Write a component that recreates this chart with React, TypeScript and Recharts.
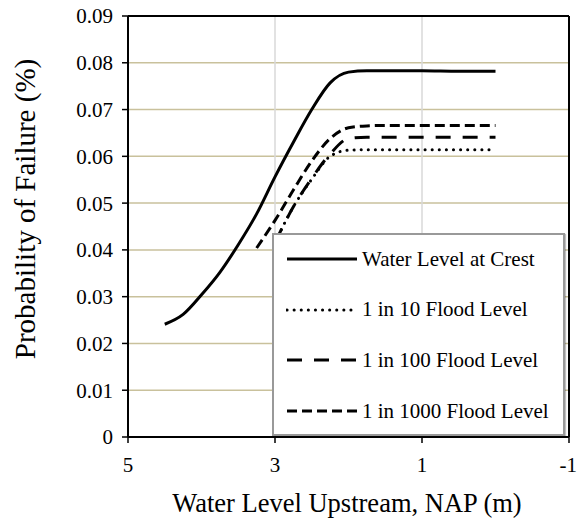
import { LineChart, Line, XAxis, YAxis, CartesianGrid, ReferenceLine } from "recharts"

// water level upstream (m NAP) vs probability of failure (%)
const crestLevels = [4.5, 4.25, 4, 3.75, 3.5, 3.25, 3, 2.75, 2.5, 2.25, 2, 1.75, 1.5, 1, 0.5, 0]
const crestProb = [0.0241, 0.0262, 0.0304, 0.0352, 0.0411, 0.0477, 0.0556, 0.063, 0.07, 0.0757, 0.078, 0.0783, 0.0783, 0.0783, 0.0782, 0.0782]

const flood10Levels = [3, 2.75, 2.5, 2.25, 2, 1.75, 1.5, 1, 0.5, 0]
const flood10Prob = [0.0416, 0.0492, 0.0551, 0.06, 0.0613, 0.0614, 0.0614, 0.0614, 0.0614, 0.0614]

const flood100Levels = [3, 2.75, 2.5, 2.25, 2, 1.75, 1.5, 1, 0.5, 0]
const flood100Prob = [0.0416, 0.0492, 0.0553, 0.0605, 0.0638, 0.0641, 0.0641, 0.0641, 0.0641, 0.0641]

const flood1000Levels = [3.25, 3, 2.75, 2.5, 2.25, 2, 1.75, 1.5, 1, 0.5, 0]
const flood1000Prob = [0.0404, 0.0463, 0.0528, 0.059, 0.0638, 0.0661, 0.0665, 0.0666, 0.0666, 0.0666, 0.0666]

const xTicks = [5, 3, 1, -1]
const yTicks = [0, 0.01, 0.02, 0.03, 0.04, 0.05, 0.06, 0.07, 0.08, 0.09]

const toRows = (xs: number[], ys: number[]) => xs.map((x, i) => ({ x, p: ys[i] }))

const series = [
  { name: "Water Level at Crest", data: toRows(crestLevels, crestProb), dash: undefined, cap: "butt" },
  { name: "1 in 10 Flood Level", data: toRows(flood10Levels, flood10Prob), dash: "0.1 7", cap: "round" },
  { name: "1 in 100 Flood Level", data: toRows(flood100Levels, flood100Prob), dash: "15 12", cap: "butt" },
  { name: "1 in 1000 Flood Level", data: toRows(flood1000Levels, flood1000Prob), dash: "10 5", cap: "butt" },
]

const FONT = "Liberation Serif, DejaVu Serif, Noto Serif, serif"

function XTitle() {
  return (
    <text x={347} y={512} textAnchor="middle" fontSize={26.5} style={{ fontFamily: FONT }} fill="#000">
      Water Level Upstream, NAP (m)
    </text>
  )
}

function YTitle() {
  const cx = 35
  const cy = 209
  return (
    <text x={cx} y={cy} transform={`rotate(-90, ${cx}, ${cy})`} textAnchor="middle" fontSize={29} style={{ fontFamily: FONT }} fill="#000">
      Probability of Failure (%)
    </text>
  )
}

function LegendBox() {
  return (
    <div
      style={{
        position: "absolute",
        left: 272,
        top: 233,
        width: 289,
        height: 199,
        background: "#fff",
        border: "2px solid #999",
        boxShadow: "1px 1px 1px rgba(0,0,0,0.25)",
        fontFamily: FONT,
        fontSize: 21,
        color: "#000",
      }}
    >
      {series.map((s, i) => (
        <div
          key={s.name}
          style={{ position: "absolute", left: 12, top: 9 + i * 50.7, height: 30, display: "flex", alignItems: "center", whiteSpace: "nowrap" }}
        >
          <svg width={72} height={10} style={{ marginRight: 4 }}>
            <line x1={1} y1={5} x2={71} y2={5} stroke="#000" strokeWidth={3} strokeDasharray={s.dash} strokeLinecap={s.cap as any} />
          </svg>
          <span>{s.name}</span>
        </div>
      ))}
    </div>
  )
}

export default function App() {
  return (
    <div style={{ position: "absolute", left: 0, top: 0, width: 577, height: 521, background: "#fff", fontFamily: FONT }}>
      <LineChart width={577} height={521} margin={{ top: 16, right: 8, left: 0, bottom: 0 }} style={{ fontFamily: FONT }}>
        <CartesianGrid vertical={false} stroke="#c9c19c" strokeWidth={1.5} />
        <CartesianGrid horizontal={false} stroke="#d9d9d9" strokeWidth={1.5} />
        <XAxis
          type="number"
          dataKey="x"
          domain={[-1, 5]}
          ticks={xTicks}
          reversed
          height={84}
          axisLine={{ stroke: "#000", strokeWidth: 2 }}
          tickLine={{ stroke: "#000", strokeWidth: 1.5 }}
          tickSize={6}
          tickMargin={14}
          tick={{ fill: "#000", fontSize: 21, style: { fontFamily: FONT } }}
          label={<XTitle />}
        />
        <YAxis
          type="number"
          domain={[0, 0.09]}
          ticks={yTicks}
          width={128}
          axisLine={{ stroke: "#000", strokeWidth: 2 }}
          tickLine={{ stroke: "#000", strokeWidth: 1.5 }}
          tickSize={6}
          tickMargin={9}
          tick={{ fill: "#000", fontSize: 21, style: { fontFamily: FONT } }}
          tickFormatter={(v: number) => String(v)}
          label={<YTitle />}
        />
        <ReferenceLine y={0.09} stroke="#000" strokeWidth={2} />
        <ReferenceLine x={-1} stroke="#000" strokeWidth={2} />
        {series.map((s) => (
          <Line
            key={s.name}
            data={s.data}
            dataKey="p"
            name={s.name}
            type="monotone"
            stroke="#000"
            strokeWidth={3}
            strokeDasharray={s.dash}
            strokeLinecap={s.cap as any}
            dot={false}
            activeDot={false}
            isAnimationActive={false}
          />
        ))}
      </LineChart>
      <LegendBox />
    </div>
  )
}
